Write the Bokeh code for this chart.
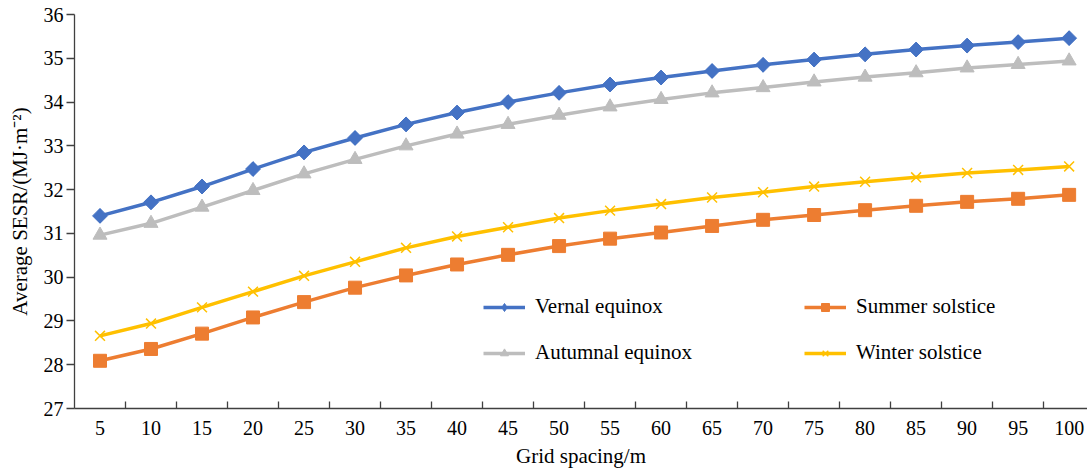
from bokeh.plotting import figure
from bokeh.models import LinearAxis, FixedTicker, Range1d, Legend, LegendItem
from bokeh.embed import file_html
from bokeh.resources import INLINE

grid_spacing = [5, 10, 15, 20, 25, 30, 35, 40, 45, 50, 55, 60, 65, 70, 75, 80, 85, 90, 95, 100]
vernal = [31.40, 31.71, 32.07, 32.47, 32.85, 33.18, 33.49, 33.76, 34.00, 34.21, 34.40, 34.56,
          34.71, 34.85, 34.97, 35.09, 35.20, 35.29, 35.37, 35.46]
autumnal = [30.96, 31.23, 31.60, 31.98, 32.36, 32.69, 33.00, 33.27, 33.49, 33.70, 33.89, 34.06,
            34.21, 34.33, 34.46, 34.57, 34.67, 34.78, 34.86, 34.94]
summer = [28.09, 28.36, 28.71, 29.08, 29.43, 29.76, 30.04, 30.29, 30.51, 30.71, 30.88, 31.02,
          31.17, 31.31, 31.42, 31.53, 31.63, 31.72, 31.79, 31.88]
winter = [28.66, 28.94, 29.31, 29.67, 30.03, 30.35, 30.67, 30.93, 31.14, 31.35, 31.52, 31.67,
          31.82, 31.94, 32.07, 32.18, 32.28, 32.38, 32.45, 32.53]
y_ticks = [27, 28, 29, 30, 31, 32, 33, 34, 35, 36]

FONT = "Liberation Serif"
AXIS_COLOR = "#404040"

p = figure(width=1087, height=470, output_backend="svg", toolbar_location=None,
           x_axis_location=None, y_axis_location=None,
           x_range=Range1d(2.5, 101.8), y_range=Range1d(27, 36),
           min_border_left=74, min_border_right=0, min_border_top=14, min_border_bottom=10)
p.outline_line_color = None
p.xgrid.visible = False
p.ygrid.visible = False

# y axis
yax = LinearAxis(ticker=FixedTicker(ticks=y_ticks))
yax.axis_line_color = AXIS_COLOR
yax.axis_line_width = 1.3
yax.major_tick_line_color = AXIS_COLOR
yax.major_tick_line_width = 1.3
yax.major_tick_out = 8
yax.major_tick_in = 0
yax.minor_tick_line_color = None
yax.major_label_text_font = FONT
yax.major_label_text_font_size = "20px"
yax.major_label_text_color = "black"
yax.major_label_standoff = 3
yax.axis_label = "Average SESR/(MJ·m⁻²)"
yax.axis_label_text_font = FONT
yax.axis_label_text_font_size = "21px"
yax.axis_label_text_font_style = "normal"
yax.axis_label_text_color = "black"
yax.axis_label_standoff = 9
p.add_layout(yax, "left")

# x axis: tick marks between categories
mids = [(a + b) / 2 for a, b in zip(grid_spacing, grid_spacing[1:])]
xticks_ax = LinearAxis(ticker=FixedTicker(ticks=mids))
xticks_ax.axis_line_color = AXIS_COLOR
xticks_ax.axis_line_width = 1.3
xticks_ax.major_tick_line_color = AXIS_COLOR
xticks_ax.major_tick_line_width = 1.3
xticks_ax.major_tick_in = 7
xticks_ax.major_tick_out = 0
xticks_ax.minor_tick_line_color = None
xticks_ax.major_label_text_font_size = "0px"
xticks_ax.major_label_text_alpha = 0
xticks_ax.major_label_standoff = 0
p.add_layout(xticks_ax, "below")

# x axis: labels at category centres
xlab_ax = LinearAxis(ticker=FixedTicker(ticks=grid_spacing))
xlab_ax.axis_line_color = None
xlab_ax.major_tick_line_color = None
xlab_ax.major_tick_in = 0
xlab_ax.major_tick_out = 0
xlab_ax.minor_tick_line_color = None
xlab_ax.major_label_text_font = FONT
xlab_ax.major_label_text_font_size = "20px"
xlab_ax.major_label_text_color = "black"
xlab_ax.major_label_standoff = 12
xlab_ax.axis_label = "Grid spacing/m"
xlab_ax.axis_label_text_font = FONT
xlab_ax.axis_label_text_font_size = "21px"
xlab_ax.axis_label_text_font_style = "normal"
xlab_ax.axis_label_text_color = "black"
xlab_ax.axis_label_standoff = 6
p.add_layout(xlab_ax, "below")

LW = 3.5
c_v, c_s, c_a, c_w = "#4472C4", "#ED7D31", "#BDBDBD", "#FFC000"

lv = p.line(grid_spacing, vernal, color=c_v, line_width=LW)
# narrow diamond used for the legend symbol; hidden under the wider rotated square
mv_leg = p.scatter(grid_spacing, vernal, marker="diamond", size=14, color=c_v)
mv = p.scatter(grid_spacing, vernal, marker="square", size=10.5, angle=0.785398, color=c_v)
ls = p.line(grid_spacing, summer, color=c_s, line_width=LW)
ms = p.scatter(grid_spacing, summer, marker="square", size=13, color=c_s)
la = p.line(grid_spacing, autumnal, color=c_a, line_width=LW)
ma = p.scatter(grid_spacing, autumnal, marker="triangle", size=14, color=c_a)
lw_ = p.line(grid_spacing, winter, color=c_w, line_width=LW)
mw = p.scatter(grid_spacing, winter, marker="x", size=14, line_color=c_w, line_width=1.5)


def make_legend(items, loc):
    lg = Legend(items=items, location=loc, orientation="vertical")
    lg.background_fill_alpha = 0
    lg.border_line_color = None
    lg.padding = 0
    lg.margin = 0
    lg.spacing = 21
    lg.glyph_width = 42
    lg.glyph_height = 20
    lg.label_height = 20
    lg.label_standoff = 10
    lg.label_text_font = FONT
    lg.label_text_font_size = "21px"
    lg.label_text_color = "black"
    return lg


leg1 = make_legend([LegendItem(label="Vernal equinox", renderers=[lv, mv_leg]),
                    LegendItem(label="Autumnal equinox", renderers=[la, ma])], (409, 43))
leg2 = make_legend([LegendItem(label="Summer solstice", renderers=[ls, ms]),
                    LegendItem(label="Winter solstice", renderers=[lw_, mw])], (730, 43))
p.add_layout(leg1, "center")
p.add_layout(leg2, "center")

open("out.html", "w").write(file_html(p, INLINE))
